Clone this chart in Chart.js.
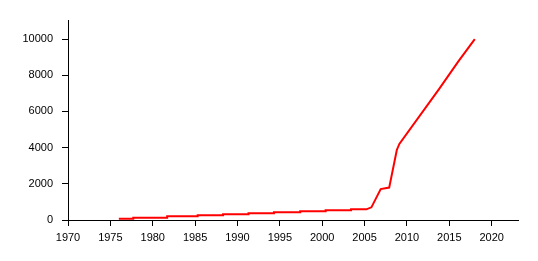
<!DOCTYPE html>
<html>
<head>
<meta charset="utf-8">
<script src="https://cdn.jsdelivr.net/npm/chart.js@4/dist/chart.umd.min.js"></script>
<style>
  html, body { margin: 0; padding: 0; background: #fff; }
  #wrap { width: 538px; height: 261px; }
</style>
</head>
<body>
<div id="wrap"><canvas id="chart" width="538" height="261"></canvas></div>
<script>
// values
var years = [1976, 1977.7, 1977.7, 1981.7, 1981.7, 1985.3, 1985.3, 1988.3, 1988.3, 1991.3, 1991.3,
  1994.3, 1994.3, 1997.4, 1997.4, 2000.4, 2000.4, 2003.4, 2003.4, 2005.2, 2005.8, 2006.9, 2007.9,
  2008.8, 2009.1, 2013.8, 2016, 2018];
var counts = [70, 70, 125, 125, 205, 205, 260, 260, 315, 315, 370,
  370, 425, 425, 480, 480, 535, 535, 590, 590, 700, 1710, 1790,
  3870, 4200, 7240, 8720, 9990];
var xTicks = [1970, 1975, 1980, 1985, 1990, 1995, 2000, 2005, 2010, 2015, 2020];
var yTicks = [0, 2000, 4000, 6000, 8000, 10000];

var points = years.map(function (y, i) { return { x: y, y: counts[i] }; });

var axisFont = { family: "'Liberation Sans', Arial, sans-serif", size: 11 };

new Chart(document.getElementById('chart').getContext('2d'), {
  type: 'line',
  data: {
    datasets: [{
      data: points,
      borderColor: '#ff0000',
      borderWidth: 2,
      pointRadius: 0,
      tension: 0,
      fill: false
    }]
  },
  options: {
    responsive: false,
    animation: false,
    layout: { padding: { top: 20, right: 20, left: 0, bottom: 0 } },
    plugins: { legend: { display: false }, tooltip: { enabled: false } },
    scales: {
      x: {
        type: 'linear',
        min: 1970,
        max: 2023.1,
        afterBuildTicks: function (s) { s.ticks = xTicks.map(function (v) { return { value: v }; }); },
        afterFit: function (s) { s.height = 41; },
        grid: { drawOnChartArea: false, drawTicks: true, tickLength: 6, color: '#000' },
        border: { color: '#000', width: 1 },
        ticks: { color: '#000', font: axisFont, padding: 5, maxRotation: 0, autoSkip: false,
          callback: function (v) { return String(v); } }
      },
      y: {
        min: 0,
        max: 11050,
        afterBuildTicks: function (s) { s.ticks = yTicks.map(function (v) { return { value: v }; }); },
        afterFit: function (s) { s.width = 68; },
        grid: { drawOnChartArea: false, drawTicks: true, tickLength: 6, color: '#000' },
        border: { color: '#000', width: 1 },
        ticks: { color: '#000', font: axisFont, padding: 9,
          callback: function (v) { return String(v); } }
      }
    }
  }
});
</script>
</body>
</html>
